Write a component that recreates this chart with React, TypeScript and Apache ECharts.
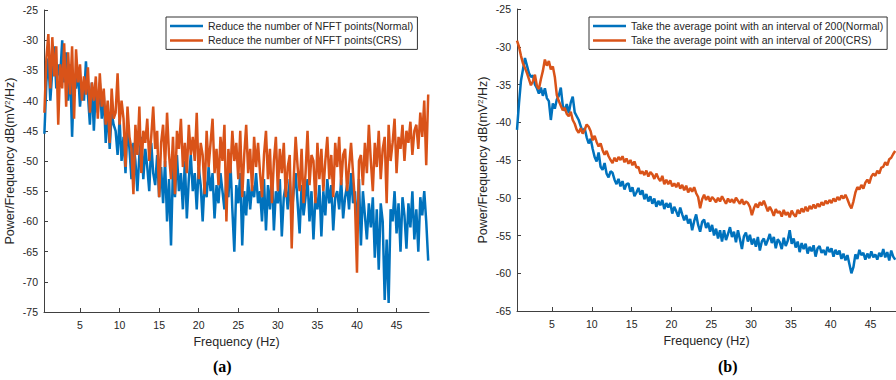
import React, { useEffect, useRef } from "react";
import * as echarts from "echarts";

// ---- Data (a): Reduce the number of NFFT points ----
const LEFT_F0 = 0.5;
const LEFT_DF = 0.25;
const leftNormal = [
  -45.5, -37, -33, -40, -35, -31, -38, -34, -36, -30, -37, -32, -40, -34, -46, -36,
  -38, -35, -41, -37, -40, -33.5, -39, -44, -37, -45, -38, -42, -37, -43, -39, -47,
  -41, -48, -42, -44, -45, -49, -43, -50, -46, -52, -44, -48, -53, -47, -50, -55,
  -49, -46, -53, -48, -51, -55, -47, -52, -54, -49, -56, -51, -57, -50, -60, -53,
  -64, -51, -56, -49, -55, -52, -58, -50, -59.5, -53, -49, -55, -52, -58, -51, -54,
  -60, -53, -56, -51, -55, -52, -59.5, -54, -57, -52, -55, -58, -53, -56, -50, -58,
  -65, -54, -57, -52, -64, -55, -59, -53, -58, -54, -56, -52, -57, -55, -60, -53,
  -61.5, -54, -58, -52, -61.5, -55, -57, -53, -62.5, -56, -54, -58, -53, -59, -55, -52,
  -57, -62, -54, -59, -56, -53, -60, -55, -63, -56, -58, -54, -62.5, -55, -59, -53,
  -57, -54, -61.5, -56, -55, -58, -53, -59.5, -56, -54, -58, -52, -57, -55, -62, -53,
  -64, -55, -59, -63, -57, -61, -56, -66, -58, -68, -57, -60, -73, -63, -73.5, -58,
  -60, -55, -62, -57, -65, -56, -59, -64.5, -57, -61, -55, -63, -58, -65, -56, -59,
  -55, -60, -66.5,
];
const leftCRS = [
  -42, -33, -29, -38, -29.5, -36, -31, -44, -34, -38, -30.5, -41, -32, -39, -31, -43,
  -31.5, -37, -34, -40, -36, -39, -34.5, -42, -37, -40, -36, -43, -35.5, -41, -38, -44,
  -40, -47, -38, -43, -42, -35.5, -44, -40, -43, -51, -41, -46, -48, -55.5, -44, -49,
  -41, -52, -45, -47, -43, -50, -46, -41, -48, -45, -56, -47, -44, -51, -42, -49,
  -53, -46, -55.5, -45, -48, -43, -51, -47, -52, -44, -49, -46, -50, -42, -53, -47,
  -49, -55.5, -45, -51, -47, -43, -52, -48, -54, -46, -50, -44, -60, -48, -52, -45,
  -50, -47, -53, -45, -56, -49, -44, -52, -48, -55, -46, -51, -47, -52, -56, -49,
  -45, -53, -48, -57, -50, -46, -55, -48, -52, -47, -56, -51, -49, -64.5, -53, -46,
  -51, -55, -48, -57, -52, -45, -54, -49, -50, -57, -47, -53, -48, -55, -50, -46,
  -53, -49, -56, -47, -51, -46, -54, -49, -48, -55, -51, -47, -52, -57, -68.5, -50,
  -49, -54, -47, -52, -44, -50, -55, -47, -51, -45, -53, -48, -46, -57, -44, -50,
  -47, -43, -52, -46, -48, -44, -50, -45, -47, -43.5, -49, -45, -44, -48, -42, -46,
  -40, -50.7, -39,
];

// ---- Data (b): Take the average point with an interval of 200 ----
const RIGHT_F0 = 0.6;
const RIGHT_DF = 0.25;
const rightNormal = [
  -41, -37.5, -34.5, -33, -31.5, -32.5, -33.5, -34, -33.8, -35, -35.5, -36.2,
  -35.4, -36.5, -35.5, -36.8, -37.2, -39.7, -37.5, -38.2, -37, -36.5, -35.4, -37.8,
  -38.5, -37.6, -38.8, -37.4, -36.6, -38.7, -39.2, -39.7, -40.5, -41.3, -40.8, -42,
  -42.8, -42.2, -43.5, -44.6, -45.2, -44, -45.9, -46.3, -45.4, -46.8, -47.3, -46.5,
  -46.7, -47.6, -48.2, -47.5, -48.5, -47.8, -48.9, -48.2, -48.1, -49.2, -48.6, -49.8,
  -49.3, -48.7, -49.6, -49, -50.2, -49.5, -50.5, -49.8, -50.8, -50.1, -51.2, -50.4,
  -51, -50.3, -51.5, -50.7, -51.3, -50.7, -52.1, -51.2, -51.8, -52.5, -51.3, -52.2,
  -53, -52.3, -53.4, -52.8, -54.3, -53.1, -52.2, -53.6, -54.5, -53.2, -52.9, -54,
  -53.3, -54.5, -53.6, -55, -54.1, -55.4, -54.3, -55.8, -54.3, -55.6, -54.8, -53.9,
  -55.2, -54.5, -55.9, -54.3, -55.5, -56.8, -55.1, -54.6, -55.8, -54.9, -56.2, -55.4,
  -56.5, -55.2, -57, -55.8, -55.4, -56.3, -55.6, -54.8, -56, -55.2, -56.7, -55.5,
  -55.9, -56.8, -55.3, -56.4, -55.7, -54.3, -56.1, -55.4, -56.6, -55.8, -57.2, -56,
  -56.8, -56.1, -57.4, -56.5, -57.1, -56.3, -57.8, -56.7, -56.4, -57.3, -56.9, -57.6,
  -56.5, -57.2, -56.7, -57.8, -56.9, -57.5, -57, -58.1, -57.4, -58.3, -57.6, -58.8,
  -60, -59.2, -57.5, -58.1, -56.9, -57.6, -57.3, -58.2, -57.4, -58, -57.1, -57.9,
  -57.5, -58.2, -57.3, -57.8, -56.8, -57.9, -57.2, -58.3, -57, -57.8, -58.2,
];
const rightCRS = [
  -29.2, -30, -31.2, -32.2, -32.8, -33.5, -34.3, -35.1, -34.6, -33.7, -35.2, -35.6,
  -34.3, -33.2, -31.7, -32.5, -31.9, -33, -32.6, -34, -36.4, -37.2, -37.8, -38.4,
  -38.1, -38.9, -39.2, -38.6, -39.7, -40.2, -41, -41.4, -40.8, -41.5, -41, -40.3,
  -40.6, -41.2, -42.4, -41.8, -42.6, -43.2, -42.8, -43.7, -44.3, -43.8, -44.5, -45,
  -45.4, -44.7, -45.2, -44.6, -45, -44.5, -45.3, -44.8, -45.5, -45, -45.7, -45.2,
  -46, -45.9, -46.8, -46.5, -47, -46.4, -47.2, -46.6, -46.9, -47.5, -46.8, -47.4,
  -47.8, -47.1, -48.2, -47.6, -48.2, -47.7, -48.5, -48.1, -48.6, -48, -48.8, -48.3,
  -49, -48.4, -49.3, -48.7, -49.2, -48.6, -49.4, -49.9, -51.4, -50.2, -49.6, -50.3,
  -49.8, -50.5, -49.9, -50.2, -50.6, -50, -50.5, -49.8, -50.3, -50.8, -50.1, -50.6,
  -50.2, -50.7, -50, -50.4, -50.8, -50.2, -50.9, -50.5, -50.7, -51.2, -52.3, -51.4,
  -50.8, -51.3, -50.6, -51, -50.4, -51.1, -51.8, -51.2, -51.7, -52.4, -51.5, -52,
  -51.8, -52.5, -51.6, -52.3, -51.9, -52.6, -51.7, -52.2, -52.5, -51.6, -52.1, -51.4,
  -51.9, -51.2, -51.8, -51.1, -51.5, -50.9, -51.4, -50.8, -51.2, -50.6, -51, -50.4,
  -50.8, -50.3, -50.7, -50.1, -50.5, -49.9, -50.3, -49.7, -50.1, -49.6, -50.2, -50.9,
  -51.4, -50.5, -49.3, -48.6, -48.9, -48.3, -48.8, -48, -47.6, -48.1, -47.2, -46.8,
  -47.1, -46.4, -46.8, -46, -45.9, -45.3, -45.7, -44.9, -44.7, -44.2, -43.8,
];

const xTicks = [5, 10, 15, 20, 25, 30, 35, 40, 45];
const names = {
  lN: "Reduce the number of NFFT points(Normal)",
  lC: "Reduce the number of NFFT points(CRS)",
  rN: "Take the average point with an interval of 200(Normal)",
  rC: "Take the average point with an interval of 200(CRS)",
};
const BLUE = "#0072BD";
const ORANGE = "#D95319";
const AX = "#404040";
const TXT = "#262626";
const FONT = "Liberation Sans";

const toPairs = (f0: number, df: number, vals: number[]) =>
  vals.map((v, i) => [+(f0 + i * df).toFixed(3), v]);

function xAxisCfg(gridIndex: number, min: number, max: number) {
  return {
    type: "value",
    gridIndex,
    min,
    max,
    name: "Frequency (Hz)",
    nameLocation: "middle",
    nameGap: 23,
    nameTextStyle: { fontFamily: FONT, fontSize: 12.5, color: TXT },
    axisLine: { show: true, onZero: false, lineStyle: { color: AX, width: 1 } },
    axisTick: { show: true, inside: true, length: 4, customValues: xTicks, lineStyle: { color: AX } },
    axisLabel: { customValues: xTicks, margin: 7, fontFamily: FONT, fontSize: 10.5, color: TXT },
    splitLine: { show: false },
  };
}

function yAxisCfg(gridIndex: number, min: number, max: number) {
  return {
    type: "value",
    gridIndex,
    min,
    max,
    interval: 5,
    name: "Power/Frequency dB(mV{sup|2}/Hz)",
    nameLocation: "middle",
    nameGap: 27,
    nameTextStyle: {
      fontFamily: FONT,
      fontSize: 12.5,
      color: TXT,
      rich: { sup: { fontFamily: FONT, fontSize: 8, color: TXT, verticalAlign: "top", padding: [0, 0, 6, 0] } },
    },
    axisLine: { show: true, onZero: false, lineStyle: { color: AX, width: 1 } },
    axisTick: { show: true, inside: true, length: 4, lineStyle: { color: AX } },
    axisLabel: { margin: 6, fontFamily: FONT, fontSize: 10.5, color: TXT },
    splitLine: { show: false },
  };
}

function legendCfg(left: number, data: string[]) {
  return {
    left,
    top: 17,
    orient: "vertical",
    data,
    icon: "rect",
    itemWidth: 33,
    itemHeight: 2.5,
    itemGap: 2.4,
    padding: [3, 4, 3, 4],
    backgroundColor: "#fff",
    borderColor: "#333",
    borderWidth: 1,
    borderRadius: 0,
    textStyle: { fontFamily: FONT, fontSize: 10.5, color: TXT, lineHeight: 12 },
  };
}

function lineSeries(name: string, color: string, xi: number, data: number[][]) {
  return {
    type: "line",
    name,
    xAxisIndex: xi,
    yAxisIndex: xi,
    data,
    showSymbol: false,
    symbol: "none",
    color,
    lineStyle: { color, width: 2.5 },
    itemStyle: { color },
    clip: true,
  };
}

export default function App() {
  const ref = useRef<HTMLDivElement>(null);
  useEffect(() => {
    if (!ref.current) return;
    const chart = echarts.init(ref.current, undefined, { renderer: "svg" });
    chart.setOption({
      animation: false,
      backgroundColor: "#fff",
      grid: [
        { left: 44, top: 10, width: 385, height: 302 },
        { left: 517, top: 9, width: 379, height: 302 },
      ],
      xAxis: [xAxisCfg(0, 0.45, 49.1), xAxisCfg(1, 0.6, 48.2)],
      yAxis: [yAxisCfg(0, -75, -25), yAxisCfg(1, -65, -25)],
      legend: [legendCfg(166, [names.lN, names.lC]), legendCfg(589, [names.rN, names.rC])],
      series: [
        lineSeries(names.lN, BLUE, 0, toPairs(LEFT_F0, LEFT_DF, leftNormal)),
        lineSeries(names.lC, ORANGE, 0, toPairs(LEFT_F0, LEFT_DF, leftCRS)),
        lineSeries(names.rN, BLUE, 1, toPairs(RIGHT_F0, RIGHT_DF, rightNormal)),
        lineSeries(names.rC, ORANGE, 1, toPairs(RIGHT_F0, RIGHT_DF, rightCRS)),
      ],
      graphic: [
        {
          type: "text",
          left: 224 - 11,
          top: 358,
          style: { text: "(a)", font: "bold 16px 'Liberation Serif'", fill: "#000" },
        },
        {
          type: "text",
          left: 729 - 11,
          top: 358,
          style: { text: "(b)", font: "bold 16px 'Liberation Serif'", fill: "#000" },
        },
      ],
    });
    return () => chart.dispose();
  }, []);
  return (
    <div
      ref={ref}
      style={{ position: "absolute", left: 0, top: 0, width: 896, height: 380 }}
    />
  );
}
